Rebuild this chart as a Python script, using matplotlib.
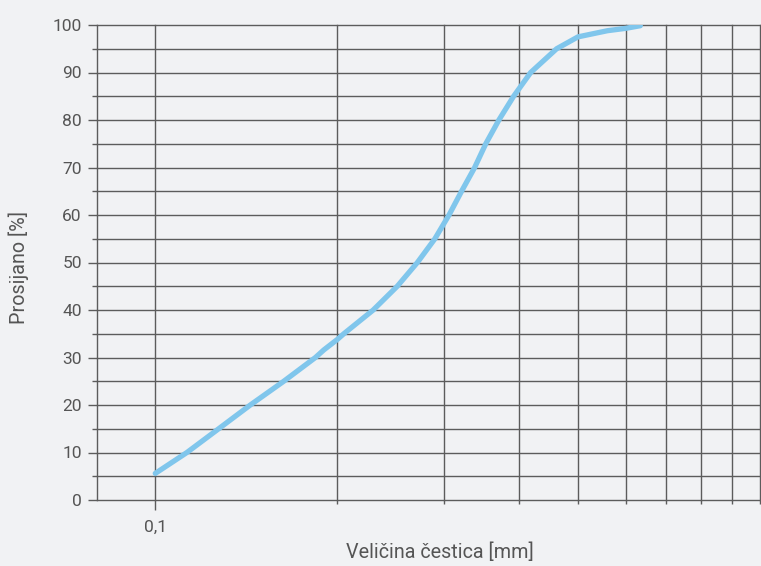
import matplotlib.pyplot as plt

# granulometrijska krivulja (ocitano sa slike)
velicina = [0.1, 0.1128, 0.1273, 0.1436, 0.1631, 0.184, 0.19, 0.2, 0.205, 0.2293, 0.2513,
            0.2713, 0.290, 0.306, 0.321, 0.3374, 0.352, 0.370, 0.3914, 0.4176, 0.461,
            0.5, 0.5595, 0.6, 0.634]
prosijano = [5.6, 10, 15, 20, 25, 30, 31.6, 33.8, 35, 40, 45,
             50, 55, 60, 65, 70, 75, 80, 85, 90, 95,
             97.5, 98.8, 99.3, 99.85]

y_major = list(range(0, 101, 10))
y_minor = list(range(5, 100, 10))
x_major = [0.1]
x_minor = [0.2, 0.3, 0.4, 0.5, 0.6, 0.7, 0.8, 0.9, 1.0]
x_labels = ['0,1']

plt.rcParams['font.family'] = ['Roboto', 'DejaVu Sans']
bg = '#f1f2f4'
grid_c = '#5c5c5c'
txt_c = '#555555'

fig = plt.figure(figsize=(7.61, 5.66), dpi=100, facecolor=bg)
ax = fig.add_axes([97/761, 1 - 500/566, 663/761, 475/566])
ax.set_facecolor(bg)

ax.plot(velicina, prosijano, color='#80c6ec', lw=3.8, solid_capstyle='round',
        solid_joinstyle='round', zorder=3)

ax.set_xscale('log')
ax.set_xlim(0.0801, 1.0)
ax.set_ylim(0, 100)

ax.set_xticks(x_major)
ax.set_xticklabels(x_labels)
ax.set_xticks(x_minor, minor=True)
ax.set_xticklabels([], minor=True)
ax.set_yticks(y_major)
ax.set_yticks(y_minor, minor=True)

# mreza - i rubne linije (0, 100, 1.0) da se vide cijele
ax.grid(True, which='both', color=grid_c, lw=1.0)
ax.set_axisbelow(True)
for t in (ax.xaxis.get_major_ticks() + ax.xaxis.get_minor_ticks()
          + ax.yaxis.get_major_ticks() + ax.yaxis.get_minor_ticks()):
    t.gridline.set_clip_on(False)

for s in ['top', 'right', 'bottom']:
    ax.spines[s].set_visible(False)
ax.spines['left'].set_color(grid_c)
ax.spines['left'].set_linewidth(1.0)

ax.tick_params(axis='y', which='major', length=6.5, width=1, color=grid_c, pad=4.5,
               labelsize=12.5, labelcolor=txt_c)
ax.tick_params(axis='y', which='minor', length=3.6, width=1, color=grid_c)
ax.tick_params(axis='x', which='major', length=7.5, width=1, color=grid_c, pad=7,
               labelsize=12.5, labelcolor=txt_c)
ax.tick_params(axis='x', which='minor', length=3, width=1, color=grid_c)

ax.set_xlabel('Veličina čestica [mm]', fontsize=14.2, color=txt_c)
ax.set_ylabel('Prosijano [%]', fontsize=14.2, color=txt_c)
ax.xaxis.set_label_coords(0.517, -0.09)
ax.yaxis.set_label_coords(-0.102, 0.49)

plt.savefig('out.png', dpi=100, facecolor=bg)
